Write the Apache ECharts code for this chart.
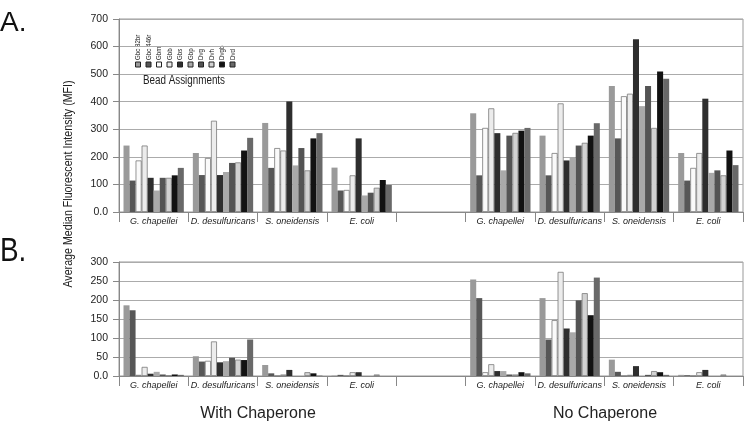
<!DOCTYPE html>
<html>
<head>
<meta charset="utf-8">
<script src="https://cdn.jsdelivr.net/npm/echarts@6/dist/echarts.min.js"></script>
<style>
html,body{margin:0;padding:0;background:#fff;}
#chart{width:744px;height:428px;}
</style>
</head>
<body>
<div id="chart"></div>
<script>
// ---- categories & labels ----
const categories = ['G. chapellei', 'D. desulfuricans', 'S. oneidensis', 'E. coli', '', 'G. chapellei', 'D. desulfuricans', 'S. oneidensis', 'E. coli'];
const beads = ['Gbc 82br', 'Gbc 446r', 'Gbm', 'Gbb', 'Gbs', 'Gbp', 'Dvg', 'Dvh', 'Dvgb', 'Dvd'];
const yTicksA = [0, 100, 200, 300, 400, 500, 600, 700];
const yTicksB = [0, 50, 100, 150, 200, 250, 300];

// ---- Panel A values (one array per organism, one value per bead) ----
const A_with_Gch = [241, 114, 187, 241, 124, 78, 124, 124, 133, 160];
const A_with_Dde = [214, 134, 196, 331, 134, 145, 178, 180, 223, 269];
const A_with_Son = [323, 160, 232, 223, 401, 169, 232, 151, 267, 286];
const A_with_Eco = [161, 78, 80, 133, 267, 60, 70, 88, 116, 98];
const A_no_Gch = [358, 133, 305, 376, 286, 151, 277, 287, 295, 305];
const A_no_Dde = [277, 133, 214, 394, 187, 198, 241, 251, 277, 322];
const A_no_Son = [457, 267, 420, 429, 627, 384, 457, 305, 510, 483];
const A_no_Eco = [214, 114, 160, 214, 411, 142, 151, 133, 223, 170];

// ---- Panel B values ----
const B_with_Gch = [186, 173, 3, 24, 6, 11, 4, 1, 4, 3];
const B_with_Dde = [52, 38, 40, 91, 36, 39, 48, 43, 42, 96];
const B_with_Son = [29, 7, 0, 4, 16, 0, 0, 10, 7, 1];
const B_with_Eco = [1, 3, 0, 10, 10, 0, 0, 4, 0, 0];
const B_no_Gch = [254, 205, 10, 31, 13, 13, 4, 4, 10, 7];
const B_no_Dde = [205, 96, 147, 274, 125, 115, 199, 218, 160, 259];
const B_no_Son = [43, 11, 0, 3, 26, 0, 3, 13, 10, 3];
const B_no_Eco = [3, 2, 0, 10, 16, 0, 0, 4, 0, 0];

const colors = ['#9a9a9a', '#575757', '#fafafa', '#ececec', '#2e2e2e', '#a9a9a9', '#545454', '#d2d2d2', '#121212', '#696969'];

const SANS = "'Liberation Sans',Arial,sans-serif";
const NARROW = 0.82; // horizontal squeeze used for narrow-looking free text

const groupsA = [A_with_Gch, A_with_Dde, A_with_Son, A_with_Eco, null, A_no_Gch, A_no_Dde, A_no_Son, A_no_Eco];
const groupsB = [B_with_Gch, B_with_Dde, B_with_Son, B_with_Eco, null, B_no_Gch, B_no_Dde, B_no_Son, B_no_Eco];

function buildSeries(groups, axisIdx) {
  return beads.map((b, i) => ({
    name: b,
    type: 'bar',
    xAxisIndex: axisIdx,
    yAxisIndex: axisIdx,
    barGap: '0%',
    barCategoryGap: '13%',
    data: groups.map(g => g ? g[i] : null),
    itemStyle: {
      color: colors[i],
      borderColor: (i === 2 || i === 3 || i === 7) ? '#7a7a7a' : colors[i],
      borderWidth: (i === 2 || i === 3 || i === 7) ? 0.8 : 0
    }
  }));
}

function xAxis(gridIndex) {
  return {
    type: 'category', gridIndex, data: categories,
    axisLine: { lineStyle: { color: '#888' } },
    axisTick: { show: true, interval: 0, length: 10, lineStyle: { color: '#888' } },
    axisLabel: { interval: 0, margin: 5, fontFamily: SANS, fontStyle: 'italic', fontSize: 9, color: '#222' }
  };
}
function yAxis(gridIndex, max, interval) {
  return {
    type: 'value', gridIndex, min: 0, max, interval,
    axisLine: { show: true, lineStyle: { color: '#888' } },
    axisTick: { show: true, length: 6, lineStyle: { color: '#888' } },
    splitLine: { lineStyle: { color: '#ababab' } },
    axisLabel: { margin: 11, fontFamily: SANS, fontSize: 10.5, color: '#222',
      formatter: v => v === 0 ? '0.0' : String(v) }
  };
}

// legend graphics
const legendGraphics = [];
beads.forEach((b, i) => {
  const cx = 138 + i * 10.5;
  legendGraphics.push({
    type: 'rect', shape: { x: cx - 2.5, y: 62, width: 5, height: 5 },
    style: { fill: colors[i], stroke: '#222', lineWidth: 1 }
  });
  legendGraphics.push({
    type: 'text', x: cx, y: 60, rotation: Math.PI / 2, scaleX: NARROW,
    style: { text: b, fontFamily: SANS, fontSize: 7.5, fill: '#222', align: 'left', verticalAlign: 'middle' }
  });
});

const option = {
  animation: false,
  backgroundColor: '#fff',
  grid: [
    { left: 119, right: 1, top: 19, height: 193, show: true, borderColor: '#999', borderWidth: 1 },
    { left: 119, right: 1, top: 262, height: 114, show: true, borderColor: '#999', borderWidth: 1 }
  ],
  xAxis: [xAxis(0), xAxis(1)],
  yAxis: [yAxis(0, yTicksA[yTicksA.length - 1], yTicksA[1] - yTicksA[0]), yAxis(1, yTicksB[yTicksB.length - 1], yTicksB[1] - yTicksB[0])],
  series: buildSeries(groupsA, 0).concat(buildSeries(groupsB, 1)),
  graphic: legendGraphics.concat([
    { type: 'text', x: 184, y: 81, scaleX: NARROW, style: { text: 'Bead Assignments', fontFamily: SANS, fontSize: 12, fill: '#222', align: 'center', verticalAlign: 'middle' } },
    { type: 'text', x: 68, y: 184, rotation: Math.PI / 2, scaleX: NARROW, style: { text: 'Average Median Fluorescent Intensity (MFI)', fontFamily: SANS, fontSize: 13, fill: '#222', align: 'center', verticalAlign: 'middle' } },
    { type: 'text', x: 0, y: 23, style: { text: 'A.', fontFamily: SANS, fontSize: 28, fill: '#111', align: 'left', verticalAlign: 'middle' } },
    { type: 'text', x: 0, y: 252, scaleX: NARROW, style: { text: 'B.', fontFamily: SANS, fontSize: 34, fill: '#111', align: 'left', verticalAlign: 'middle' } },
    { type: 'text', x: 258, y: 414, style: { text: 'With Chaperone', fontFamily: SANS, fontSize: 16, fill: '#222', align: 'center', verticalAlign: 'middle' } },
    { type: 'text', x: 605, y: 414, style: { text: 'No Chaperone', fontFamily: SANS, fontSize: 16, fill: '#222', align: 'center', verticalAlign: 'middle' } }
  ])
};

const chart = echarts.init(document.getElementById('chart'), null, { renderer: 'canvas' });
chart.setOption(option);
</script>
</body>
</html>
